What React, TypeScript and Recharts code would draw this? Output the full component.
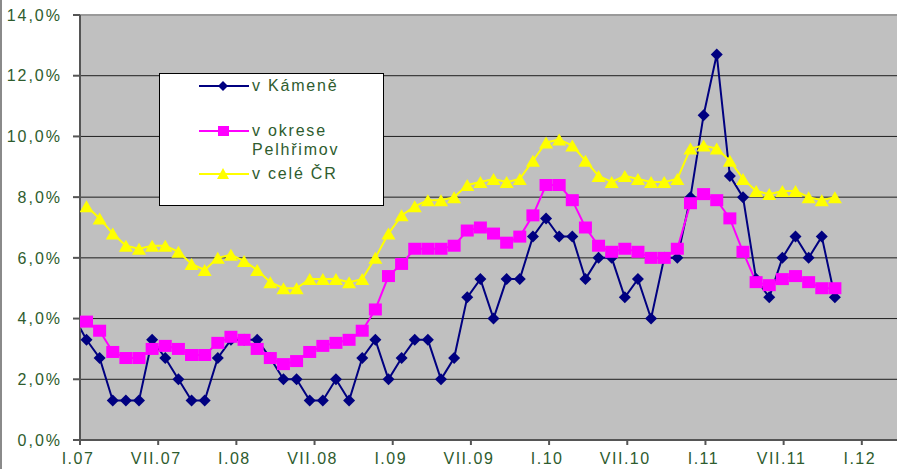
import { CartesianGrid, Legend, Line, LineChart, ReferenceLine, XAxis, YAxis } from "recharts";

// měsíce XII.06 .. X.11 (první bod leží mimo graf vlevo)
const roman = ["I", "II", "III", "IV", "V", "VI", "VII", "VIII", "IX", "X", "XI", "XII"];
const months: string[] = ["XII.06"];
for (let y = 7; y <= 11; y++) {
  for (let m = 0; m < 12; m++) {
    if (y === 11 && m > 9) break;
    months.push(`${roman[m]}.${String(y).padStart(2, "0")}`);
  }
}

const kamene = [
  4.1, 3.3, 2.7, 1.3, 1.3, 1.3, 3.3, 2.7, 2.0, 1.3, 1.3, 2.7, 3.3, 3.3, 3.3, 2.7, 2.0, 2.0, 1.3, 1.3,
  2.0, 1.3, 2.7, 3.3, 2.0, 2.7, 3.3, 3.3, 2.0, 2.7, 4.7, 5.3, 4.0, 5.3, 5.3, 6.7, 7.3, 6.7, 6.7, 5.3,
  6.0, 6.0, 4.7, 5.3, 4.0, 6.0, 6.0, 8.0, 10.7, 12.7, 8.7, 8.0, 5.3, 4.7, 6.0, 6.7, 6.0, 6.7, 4.7
];
const okres = [
  null, 3.9, 3.6, 2.9, 2.7, 2.7, 3.0, 3.1, 3.0, 2.8, 2.8, 3.2, 3.4, 3.3, 3.0, 2.7, 2.5, 2.6, 2.9, 3.1,
  3.2, 3.3, 3.6, 4.3, 5.4, 5.8, 6.3, 6.3, 6.3, 6.4, 6.9, 7.0, 6.8, 6.5, 6.7, 7.4, 8.4, 8.4, 7.9, 7.0,
  6.4, 6.2, 6.3, 6.2, 6.0, 6.0, 6.3, 7.8, 8.1, 7.9, 7.3, 6.2, 5.2, 5.1, 5.3, 5.4, 5.2, 5.0, 5.0
];
const cr = [
  null, 7.7, 7.3, 6.8, 6.4, 6.3, 6.4, 6.4, 6.2, 5.8, 5.6, 6.0, 6.1, 5.9, 5.6, 5.2, 5.0, 5.0, 5.3, 5.3,
  5.3, 5.2, 5.3, 6.0, 6.8, 7.4, 7.7, 7.9, 7.9, 8.0, 8.4, 8.5, 8.6, 8.5, 8.6, 9.2, 9.8, 9.9, 9.7, 9.2,
  8.7, 8.5, 8.7, 8.6, 8.5, 8.5, 8.6, 9.6, 9.7, 9.6, 9.2, 8.6, 8.2, 8.1, 8.2, 8.2, 8.0, 7.9, 8.0
];

const timeTicks = [0, 6, 12, 18, 24, 30, 36, 42, 48, 54, 60];
const timeLabels = ["I.07", "VII.07", "I.08", "VII.08", "I.09", "VII.09", "I.10", "VII.10", "I.11", "VII.11", "I.12"];
const yTicks = [0, 2, 4, 6, 8, 10, 12, 14];

const data = months.map((month, i) => ({
  idx: i - 1,
  month,
  kamene: kamene[i],
  okres: okres[i],
  cr: cr[i]
}));

const textColor = "#2e5c2e";
const font = "'Liberation Sans', Arial, sans-serif";

const Diamond = (props: any) => {
  const { cx, cy } = props;
  if (cx == null || cy == null) return null;
  return <polygon points={`${cx},${cy - 6} ${cx + 6},${cy} ${cx},${cy + 6} ${cx - 6},${cy}`} fill="#000080" />;
};
const Square = (props: any) => {
  const { cx, cy } = props;
  if (cx == null || cy == null) return null;
  return <rect x={cx - 6.5} y={cy - 6} width={13} height={12} fill="#ff00ff" />;
};
const Triangle = (props: any) => {
  const { cx, cy } = props;
  if (cx == null || cy == null) return null;
  return <polygon points={`${cx},${cy - 6} ${cx + 7},${cy + 6} ${cx - 7},${cy + 6}`} fill="#ffff00" />;
};

const legendItems = [
  { name: "v Kámeně", color: "#000080", shape: "diamond", lines: ["v Kámeně"], top: 12 },
  { name: "v okrese Pelhřimov", color: "#ff00ff", shape: "square", lines: ["v okrese", "Pelhřimov"], top: 57 },
  { name: "v celé ČR", color: "#ffff00", shape: "triangle", lines: ["v celé ČR"], top: 100 }
];

function LegendBox() {
  return (
    <div
      style={{
        position: "relative",
        width: 225,
        height: 133,
        background: "#fff",
        border: "1px solid #000",
        boxSizing: "border-box",
        fontFamily: font,
        fontSize: 16,
        letterSpacing: 1.8,
        color: textColor
      }}
    >
      {legendItems.map((item) => (
        <div key={item.name} style={{ position: "absolute", left: 38, top: item.top - 12 }}>
          <svg width={52} height={24} style={{ position: "absolute", left: 0, top: 0 }}>
            <line x1={1} y1={12} x2={51} y2={12} stroke={item.color} strokeWidth={2} />
            {item.shape === "diamond" && <polygon points="25,7 30,12 25,17 20,12" fill={item.color} />}
            {item.shape === "square" && <rect x={20} y={7} width={11} height={10} fill={item.color} />}
            {item.shape === "triangle" && <polygon points="25,6 31,17 19,17" fill={item.color} />}
          </svg>
          <div style={{ position: "absolute", left: 54, top: 2, whiteSpace: "nowrap", lineHeight: "19px" }}>
            {item.lines.map((l) => (
              <div key={l}>{l}</div>
            ))}
          </div>
        </div>
      ))}
    </div>
  );
}

export default function App() {
  return (
    <div style={{ position: "absolute", left: 0, top: 0, width: 897, height: 469, background: "#fff" }}>
      <div style={{ position: "absolute", left: 0, top: 0, width: 2, height: 469, background: "#8a8a8a" }} />
      <LineChart width={897} height={469} data={data} margin={{ top: 15, right: 0, bottom: 0, left: 0 }}>
        <CartesianGrid
          xAxisId="data"
          fill="#c0c0c0"
          vertical={false}
          horizontalValues={[2, 4, 6, 8, 10, 12]}
          stroke="#000"
          strokeOpacity={0.85}
        />
        <ReferenceLine xAxisId="data" y={14} stroke="#9a9a9a" strokeWidth={2} />
        <XAxis
          xAxisId="time"
          dataKey="timeAxis"
          type="number"
          domain={[0, 62.7]}
          allowDataOverflow
          ticks={timeTicks}
          tickFormatter={(v: number) => timeLabels[timeTicks.indexOf(v)] ?? ""}
          height={29}
          tickSize={5}
          tickMargin={8}
          interval={0}
          stroke="#555"
          strokeWidth={2}
          tick={{ fill: textColor, fontSize: 16, fontFamily: font, letterSpacing: 1.5, dx: -2 }}
        />
        <XAxis
          xAxisId="data"
          dataKey="idx"
          type="number"
          domain={[-0.495, 61.73]}
          allowDataOverflow
          height={0}
          hide
        />
        <YAxis
          type="number"
          domain={[0, 14]}
          ticks={yTicks}
          width={80}
          tickSize={7}
          tickMargin={11}
          interval={0}
          stroke="#555"
          strokeWidth={2}
          tickFormatter={(v: number) => `${v.toFixed(1).replace(".", ",")}%`}
          tick={{ fill: textColor, fontSize: 16, fontFamily: font, letterSpacing: 2 }}
        />
        <Legend
          layout="vertical"
          align="center"
          verticalAlign="middle"
          content={() => <LegendBox />}
          wrapperStyle={{ left: 159, top: 73, width: 225, height: 133 }}
        />
        <Line
          xAxisId="data"
          dataKey="kamene"
          name="v Kámeně"
          stroke="#000080"
          strokeWidth={2}
          dot={<Diamond />}
          activeDot={false}
          isAnimationActive={false}
        />
        <Line
          xAxisId="data"
          dataKey="okres"
          name="v okrese Pelhřimov"
          stroke="#ff00ff"
          strokeWidth={2}
          dot={<Square />}
          activeDot={false}
          isAnimationActive={false}
        />
        <Line
          xAxisId="data"
          dataKey="cr"
          name="v celé ČR"
          stroke="#ffff00"
          strokeWidth={2}
          dot={<Triangle />}
          activeDot={false}
          isAnimationActive={false}
        />
      </LineChart>
    </div>
  );
}
